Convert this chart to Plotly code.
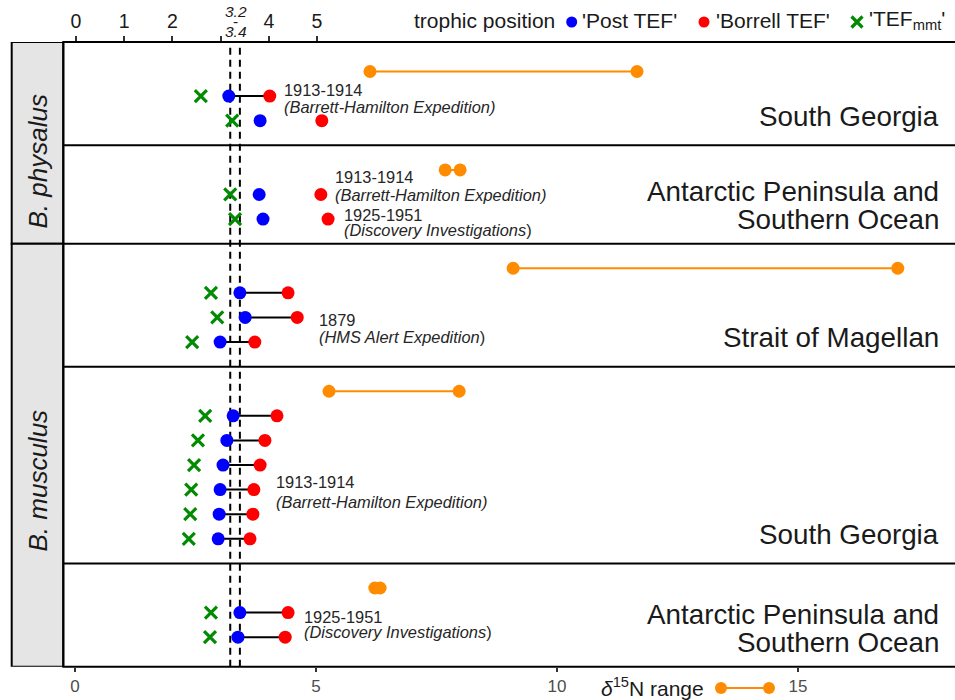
import plotly.graph_objects as go

# ---------------- data ----------------
panel_names = ["South Georgia", "Antarctic Peninsula and<br>Southern Ocean", "Strait of Magellan",
               "South Georgia", "Antarctic Peninsula and<br>Southern Ocean"]
panel_species = ["B. physalus", "B. physalus", "B. musculus", "B. musculus", "B. musculus"]
d15n_min = [6.12, 7.68, 9.09, 5.27, 6.22]
d15n_max = [11.66, 7.99, 17.07, 7.97, 6.33]

rec_panel = [0, 0, 1, 1, 2, 2, 2, 3, 3, 3, 3, 3, 3, 4, 4]
post_tef = [3.17, 3.82, 3.80, 3.88, 3.40, 3.51, 2.99, 3.26, 3.13, 3.05, 2.99, 2.97, 2.95, 3.40, 3.36]
borrell_tef = [4.02, 5.10, 5.08, 5.23, 4.40, 4.59, 3.71, 4.17, 3.92, 3.82, 3.69, 3.67, 3.61, 4.40, 4.34]
tef_mmt = [2.59, 3.24, 3.20, 3.30, 2.80, 2.93, 2.41, 2.68, 2.53, 2.45, 2.39, 2.37, 2.34, 2.80, 2.78]
linked = [True, False, False, False, True, True, True, True, True, True, True, True, True, True, True]

tef_range = [3.2, 3.4]
top_ticks = [0, 1, 2, 3, 4, 5]
top_ticktext = ["0", "1", "2", "", "4", "5"]
bottom_ticks = [0, 5, 10, 15]

# expedition notes: line text, x on trophic axis, y in row units
note_text = ["1913-1914", "<i>(Barrett-Hamilton Expedition)</i>",
             "1913-1914", "<i>(Barrett-Hamilton Expedition)</i>",
             "1925-1951", "<i>(Discovery Investigations</i>)",
             "1879", "<i>(HMS Alert Expedition</i>)",
             "1913-1914", "<i>(Barrett-Hamilton Expedition)</i>",
             "1925-1951", "<i>(Discovery Investigations</i>)"]
note_x = [4.27, 4.27, 5.33, 5.33, 5.52, 5.52, 5.0, 5.0, 4.11, 4.11, 4.69, 4.69]
note_y = [1.75, 2.44, 5.29, 6.02, 6.83, 7.44, 11.10, 11.79, 17.69, 18.50, 23.17, 23.78]

# ---------------- layout geometry ----------------
W, H = 955, 700
FONT = "Liberation Sans, Arial, sans-serif"
TXT = "#1a1a1a"
px_left, px_top, px_bottom = 63.3, 42.0, 666.7
strip_left = 11.7

def fx(px):
    return px / W

def fy(py):
    return 1 - py / H

# row positions per panel
n_per_panel = [rec_panel.count(p) for p in range(len(panel_names))]
orange_y, boundaries = [], [0]
rec_y = []
pos = 0
for p, n in enumerate(n_per_panel):
    orange_y.append(pos + 1)
    rec_y.extend([pos + 2 + i for i in range(n)])
    pos = pos + n + 2
    boundaries.append(pos)

Y_RANGE = [boundaries[-1] + 0.2, -0.2]

fig = go.Figure()

# connecting black lines (post -> borrell)
lx, ly = [], []
for a, b, y, k in zip(post_tef, borrell_tef, rec_y, linked):
    if k:
        lx += [a, b, None]
        ly += [y, y, None]
fig.add_trace(go.Scatter(x=lx, y=ly, xaxis="x2", yaxis="y", mode="lines",
                         line=dict(color="black", width=2), hoverinfo="skip", showlegend=False))

# orange d15N range
ox, oy = [], []
for lo, hi, y in zip(d15n_min, d15n_max, orange_y):
    ox += [lo, hi, None]
    oy += [y, y, None]
fig.add_trace(go.Scatter(x=ox, y=oy, xaxis="x", yaxis="y", mode="lines+markers",
                         line=dict(color="#FF8C00", width=2),
                         marker=dict(color="#FF8C00", size=13), showlegend=False))

fig.add_trace(go.Scatter(x=tef_mmt, y=rec_y, xaxis="x2", yaxis="y", mode="markers",
                         marker=dict(symbol="x-thin", size=12, line=dict(color="#008B00", width=3.2)),
                         showlegend=False))
fig.add_trace(go.Scatter(x=post_tef, y=rec_y, xaxis="x2", yaxis="y", mode="markers",
                         marker=dict(color="#0000FF", size=13), showlegend=False))
fig.add_trace(go.Scatter(x=borrell_tef, y=rec_y, xaxis="x2", yaxis="y", mode="markers",
                         marker=dict(color="#FF0000", size=13), showlegend=False))

shapes = []
# dashed TEF lines
for v in tef_range:
    shapes.append(dict(type="line", xref="x2", yref="y domain", x0=v, x1=v, y0=0, y1=1,
                       line=dict(color="black", width=2, dash="7px,5px"), layer="below"))
# panel separators
for b in boundaries[1:-1]:
    shapes.append(dict(type="line", xref="paper", yref="y", x0=fx(px_left), x1=1, y0=b, y1=b,
                       line=dict(color="black", width=2)))
# panel border
shapes.append(dict(type="rect", xref="paper", yref="paper", x0=fx(px_left), x1=1.01,
                   y0=fy(px_bottom), y1=fy(px_top), line=dict(color="black", width=2)))
# strips
species_order = []
for s in panel_species:
    if s not in species_order:
        species_order.append(s)
strip_label_py = {"B. physalus": 162, "B. musculus": 481}
annotations = []
for s in species_order:
    idx = [i for i, t in enumerate(panel_species) if t == s]
    y0 = boundaries[idx[0]] if idx[0] > 0 else Y_RANGE[1]
    y1 = boundaries[idx[-1] + 1] if idx[-1] + 1 < len(boundaries) - 1 else Y_RANGE[0]
    shapes.append(dict(type="rect", xref="paper", yref="y", x0=fx(strip_left), x1=fx(px_left),
                       y0=y0, y1=y1, fillcolor="#E5E5E5", line=dict(color="black", width=2),
                       layer="below"))
    annotations.append(dict(text="<i>%s</i>" % s, xref="paper", yref="paper",
                            x=fx(37.5), y=fy(strip_label_py[s]), textangle=-90, showarrow=False,
                            font=dict(family=FONT, size=26, color=TXT),
                            xanchor="center", yanchor="middle"))

# facet labels (right side), one annotation per line
facet_line_offsets = {1: [29], 2: [52, 24]}
for p, name in enumerate(panel_names):
    lines = name.split("<br>")
    bottom_y = boundaries[p + 1] if p + 1 < len(boundaries) - 1 else Y_RANGE[0]
    py_bottom = px_top + (bottom_y - Y_RANGE[1]) / (Y_RANGE[0] - Y_RANGE[1]) * (px_bottom - px_top)
    for line, off in zip(lines, facet_line_offsets[len(lines)]):
        annotations.append(dict(text=line, xref="paper", yref="paper", x=fx(941), y=fy(py_bottom - off),
                                xanchor="right", yanchor="middle", showarrow=False,
                                font=dict(family=FONT, size=27.8, color=TXT)))

# expedition notes
for t, x, y in zip(note_text, note_x, note_y):
    annotations.append(dict(text=t, xref="x2", yref="y", x=x, y=y, xanchor="left", yanchor="middle",
                            showarrow=False, font=dict(family=FONT, size=16.4, color="#262626")))

# stacked tick label 3.2 - 3.4
for t, py in zip(["<i>3.2</i>", "-", "<i>3.4</i>"], [11.5, 21.5, 31.5]):
    annotations.append(dict(text=t, xref="paper", yref="paper", x=fx(235.5), y=fy(py),
                            xanchor="center", yanchor="middle", showarrow=False,
                            font=dict(family=FONT, size=15.5, color=TXT)))

# top legend
LEG_Y = 21
annotations.append(dict(text="trophic position", xref="paper", yref="paper", x=fx(412), y=fy(LEG_Y - 1),
                        xanchor="left", yanchor="middle", showarrow=False,
                        font=dict(family=FONT, size=21, color=TXT)))
leg_items = [("'Post TEF'", "#0000FF", 571.7, 580), ("'Borrell TEF'", "#FF0000", 704, 714),
             ("'TEF<sub>mmt</sub>'", None, 857, 867)]
for text, col, cx, tx in leg_items:
    annotations.append(dict(text=text, xref="paper", yref="paper", x=fx(tx), y=fy(LEG_Y - 1),
                            xanchor="left", yanchor="middle", showarrow=False,
                            font=dict(family=FONT, size=21, color=TXT)))
    if col:
        shapes.append(dict(type="circle", xref="paper", yref="paper", xsizemode="pixel", ysizemode="pixel",
                           xanchor=fx(cx), yanchor=fy(LEG_Y + 1), x0=-5.5, x1=5.5, y0=-5.5, y1=5.5,
                           fillcolor=col, line=dict(width=0)))
    else:
        shapes.append(dict(type="path", xref="paper", yref="paper", xsizemode="pixel", ysizemode="pixel",
                           xanchor=fx(cx), yanchor=fy(LEG_Y + 1),
                           path="M-5.5,-5.5 L5.5,5.5 M-5.5,5.5 L5.5,-5.5",
                           line=dict(color="#008B00", width=3.2)))

# bottom legend for d15N range
annotations.append(dict(text="<i>δ</i><sup>15</sup>N range", xref="paper", yref="paper", x=fx(599),
                        y=fy(687), xanchor="left", yanchor="middle", showarrow=False,
                        font=dict(family=FONT, size=21, color=TXT)))
shapes.append(dict(type="line", xref="paper", yref="paper", xsizemode="pixel", ysizemode="pixel",
                   xanchor=fx(721), yanchor=fy(688), x0=0, x1=48, y0=0, y1=0,
                   line=dict(color="#FF8C00", width=2)))
for cx in (721, 769):
    shapes.append(dict(type="circle", xref="paper", yref="paper", xsizemode="pixel", ysizemode="pixel",
                       xanchor=fx(cx), yanchor=fy(688), x0=-6, x1=6, y0=-6, y1=6,
                       fillcolor="#FF8C00", line=dict(width=0)))

x_lo = (px_left - 75) / 48.2
x_hi = (W - 75) / 48.2
x2_lo = (px_left - 76) / 48.2
x2_hi = (W - 76) / 48.2

fig.update_layout(
    width=W, height=H, autosize=False,
    margin=dict(l=0, r=0, t=0, b=0, pad=0),
    paper_bgcolor="white", plot_bgcolor="white",
    font=dict(family=FONT, color=TXT),
    showlegend=False,
    xaxis=dict(domain=[fx(px_left), 1], range=[x_lo, x_hi], tickvals=bottom_ticks,
               ticks="outside", ticklen=4, tickwidth=1.5, tickcolor="#333333",
               tickfont=dict(family=FONT, size=17, color="#4d4d4d"),
               showgrid=False, zeroline=False, showline=False, anchor="y"),
    xaxis2=dict(overlaying="x", side="top", range=[x2_lo, x2_hi], tickvals=top_ticks,
                ticktext=top_ticktext, ticks="outside", ticklen=5, tickwidth=1.5, tickcolor="#333333",
                tickfont=dict(family=FONT, size=19.5, color=TXT),
                showgrid=False, zeroline=False, showline=False, anchor="y"),
    yaxis=dict(domain=[fy(px_bottom), fy(px_top)], range=Y_RANGE, visible=False,
               showgrid=False, zeroline=False),
    shapes=shapes,
    annotations=annotations,
)

fig.write_html("out.html", config={"displayModeBar": False},
               post_script="document.body.style.margin='0';")
